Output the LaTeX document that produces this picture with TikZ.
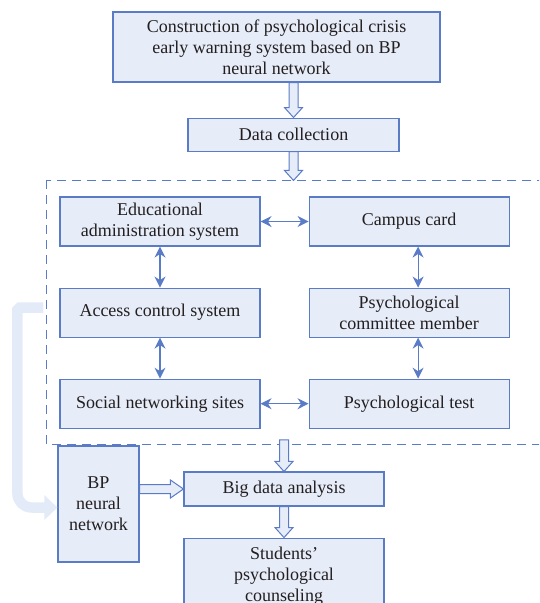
\documentclass[tikz,border=0pt]{standalone}
\usepackage{fontspec}
\setmainfont{Liberation Serif}
\usetikzlibrary{positioning,arrows.meta,calc}
\definecolor{edgeblue}{HTML}{5A7BC6}
\definecolor{paleblue}{HTML}{E6ECF8}
\definecolor{fadeblue}{HTML}{E4EBF8}
\definecolor{inkgray}{HTML}{231F20}

\begin{document}
\begin{tikzpicture}[x=1pt, y=-1pt, node distance = 41pt, > = {Stealth[length=11pt,width=11pt]},
box/.style={ rectangle, draw=edgeblue, fill=paleblue, line width=1.1pt, text=inkgray, align=center, inner sep=1pt, minimum width=200pt, minimum height=49pt, font=\fontsize{18}{21}\selectfont },
link/.style={ draw=edgeblue, line width=1.2pt },
frame/.style={ draw=edgeblue, line width=1.2pt, dash pattern=on 9pt off 6pt },
feedback/.style={ draw=fadeblue, line width=10.5pt, line join=bevel, -{Triangle[length=13pt,width=24pt]} },
fatdown/.style={ draw=edgeblue, fill=paleblue, line width=1pt, to path={ let \p1=(\tikztostart), \p2=(\tikztotarget) in
	(\x1-4.5pt,\y1) -- (\x1-4.5pt,\y2+10pt) -- (\x1-9pt,\y2+10pt) -- (\x1,\y2) -- (\x1+9pt,\y2+10pt) -- (\x1+4.5pt,\y2+10pt) -- (\x1+4.5pt,\y1) -- cycle }},
fatright/.style={ draw=edgeblue, fill=paleblue, line width=1pt, to path={ let \p1=(\tikztostart), \p2=(\tikztotarget) in
	(\x1,\y1+4.5pt) -- (\x2-13pt,\y1+4.5pt) -- (\x2-13pt,\y1+9pt) -- (\x2,\y1) -- (\x2-13pt,\y1-9pt) -- (\x2-13pt,\y1-4.5pt) -- (\x1,\y1-4.5pt) -- cycle }}]

\useasboundingbox (0,0) rectangle (539,603);
\clip (0,0) rectangle (539,603);

\node (top) [box, minimum width=327pt, minimum height=70pt] at (276.5,47) {Construction of psychological crisis\\early warning system based on BP\\neural network};
\node (data) [box, minimum width=211pt, minimum height=33pt, below = 35pt of top, xshift=17pt] {Data collection};
\draw[fatdown] (data.north |- top.south) to (data.north);

%data sources
\node (edu) [box] at (160,221.5) {Educational\\administration system};
\node (campus) [box, right = 48pt of edu] {Campus card}
	edge [link, <->] (edu);
\node (access) [box, below = of edu] {Access control system}
	edge [link, <->] (edu);
\node (committee) [box, right = 48pt of access] {Psychological\\committee member};
\node (social) [box, below = of access] {Social networking sites}
	edge [link, <->] (access);
\node (test) [box, right = 48pt of social] {Psychological test}
	edge [link, <->] (social);
\draw[link, <->] ([xshift=9pt]campus.south) -- ([xshift=9pt]committee.north);
\draw[link, <->] ([xshift=9pt]committee.south) -- ([xshift=9pt]test.north);

%dashed frame round the sources
\coordinate (fnw) at ([xshift=-13pt,yshift=16pt]edu.north west);
\coordinate (fse) at ([xshift=40pt,yshift=-16pt]test.south east);
\draw[frame] (fnw) rectangle (fse);
\draw[fatdown] (data.south) to (data.south |- fnw);

%analysis
\node (bigdata) [box, minimum height=34pt] at (284,489) {Big data analysis};
\node (students) [box, minimum height=76pt, below = 31pt of bigdata] {Students’\\psychological\\counseling};
\node (bp) [box, minimum width=81pt, minimum height=116pt] at (98.5,504) {BP\\neural\\network};
\draw[fatdown] ([yshift=5pt]bigdata.north |- fse) to (bigdata.north);
\draw[fatdown] (bigdata.south) to (students.north);
\draw[fatright] (bp.east |- bigdata.west) to (bigdata.west);

%feedback into the network
\draw[feedback] ([xshift=-3pt,yshift=5pt]fnw |- access.west) -- ++(-26,0) -- ++(0,150) [rounded corners=14pt] |- ([yshift=-3.5pt]bp.west);

\end{tikzpicture}
\end{document}
